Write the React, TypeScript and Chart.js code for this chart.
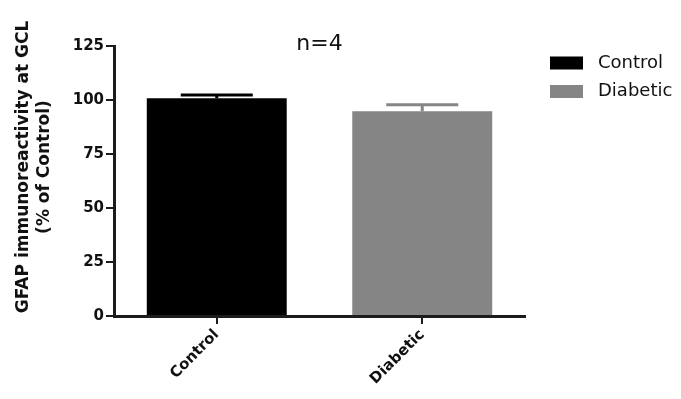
import { useEffect, useRef } from "react";
import { Chart, registerables } from "chart.js";

Chart.register(...registerables);

const categories = ["Control", "Diabetic"];
const seriesNames = ["Control", "Diabetic"];
const controlValues = [100.8, null];
const diabeticValues = [null, 94.8];
const seriesErrors = [1.5, 3.0];
const seriesColors = ["#000000", "#858585"];
const yTickValues = [0, 25, 50, 75, 100, 125];
const titleText = "n=4";
const yTitleLines = ["GFAP immunoreactivity at GCL", "(% of Control)"];

const FONT = "'DejaVu Sans', 'Liberation Sans', Arial, sans-serif";
const AXIS_COLOR = "#1c1c1c";

const decorPlugin = {
  id: "decor",
  afterDatasetsDraw(chart: any) {
    const ctx = chart.ctx;
    const yScale = chart.scales.y;
    // error bars (upper half, like the original)
    chart.data.datasets.forEach((ds: any, i: number) => {
      const meta = chart.getDatasetMeta(i);
      const err = seriesErrors[i];
      ds.data.forEach((v: number | null, j: number) => {
        if (v === null || v === undefined) return;
        const el = meta.data[j];
        const x = el.x;
        const yBar = yScale.getPixelForValue(v);
        const yTop = yScale.getPixelForValue(v + err);
        ctx.save();
        ctx.strokeStyle = ds.backgroundColor;
        ctx.lineWidth = 3;
        ctx.beginPath();
        ctx.moveTo(x, yBar);
        ctx.lineTo(x, yTop);
        ctx.moveTo(x - 36, yTop);
        ctx.lineTo(x + 36, yTop);
        ctx.stroke();
        ctx.restore();
      });
    });
  },
  afterDraw(chart: any) {
    const ctx = chart.ctx;
    const area = chart.chartArea;
    ctx.save();
    // title
    ctx.fillStyle = "#111";
    ctx.font = `22px ${FONT}`;
    ctx.textAlign = "center";
    ctx.textBaseline = "middle";
    ctx.fillText(titleText, (area.left + area.right) / 2, 44);

    // y-axis title (two lines, rotated)
    ctx.save();
    ctx.font = `bold 17px ${FONT}`;
    ctx.translate(0, 167);
    ctx.rotate(-Math.PI / 2);
    ctx.fillText(yTitleLines[0], 0, 24);
    ctx.fillText(yTitleLines[1], 0, 45);
    ctx.restore();

    // legend
    ctx.font = `18px ${FONT}`;
    ctx.textAlign = "left";
    chart.data.datasets.forEach((ds: any, i: number) => {
      const cy = 63 + i * 28.5;
      ctx.fillStyle = ds.backgroundColor;
      ctx.fillRect(550, cy - 6.5, 33, 13);
      ctx.fillStyle = "#111";
      ctx.fillText(ds.label, 598, cy);
    });
    ctx.restore();
  },
};

export default function App() {
  const ref = useRef<HTMLCanvasElement>(null);
  useEffect(() => {
    const chart = new Chart(ref.current as HTMLCanvasElement, {
      type: "bar",
      data: {
        labels: categories,
        datasets: [
          {
            label: seriesNames[0],
            data: controlValues,
            backgroundColor: seriesColors[0],
            grouped: false,
            barPercentage: 0.681,
            categoryPercentage: 1,
          } as any,
          {
            label: seriesNames[1],
            data: diabeticValues,
            backgroundColor: seriesColors[1],
            grouped: false,
            barPercentage: 0.681,
            categoryPercentage: 1,
          } as any,
        ],
      },
      options: {
        responsive: false,
        devicePixelRatio: 1,
        animation: false,
        layout: { padding: { left: 0, top: 46, right: 156, bottom: 0 } },
        plugins: {
          legend: { display: false },
          title: { display: false },
          tooltip: { enabled: false },
        },
        scales: {
          x: {
            type: "category",
            grid: {
              display: true,
              offset: false,
              drawOnChartArea: false,
              drawTicks: true,
              tickLength: 8,
              lineWidth: 2,
              color: AXIS_COLOR,
            },
            border: { display: true, width: 3, color: AXIS_COLOR },
            ticks: {
              font: { family: FONT, size: 15, weight: "bold" },
              color: "#111",
              minRotation: 45,
              maxRotation: 45,
              padding: 2,
            },
            afterFit: (s: any) => {
              s.height = 83;
            },
          },
          y: {
            min: 0,
            max: 125,
            afterBuildTicks: (s: any) => {
              s.ticks = yTickValues.map((v) => ({ value: v }));
            },
            grid: {
              display: true,
              drawOnChartArea: false,
              drawTicks: true,
              tickLength: 8,
              lineWidth: 2,
              color: AXIS_COLOR,
            },
            border: { display: true, width: 3, color: AXIS_COLOR },
            ticks: {
              font: { family: FONT, size: 15, weight: "bold" },
              color: "#111",
              padding: 2,
            },
            afterFit: (s: any) => {
              s.width = 114;
            },
          },
        },
      },
      plugins: [decorPlugin],
    });
    return () => chart.destroy();
  }, []);
  return (
    <div
      style={{
        position: "absolute",
        left: 0,
        top: 0,
        width: 681,
        height: 399,
        background: "#fff",
      }}
    >
      <canvas ref={ref} width={681} height={399} style={{ display: "block" }} />
    </div>
  );
}
